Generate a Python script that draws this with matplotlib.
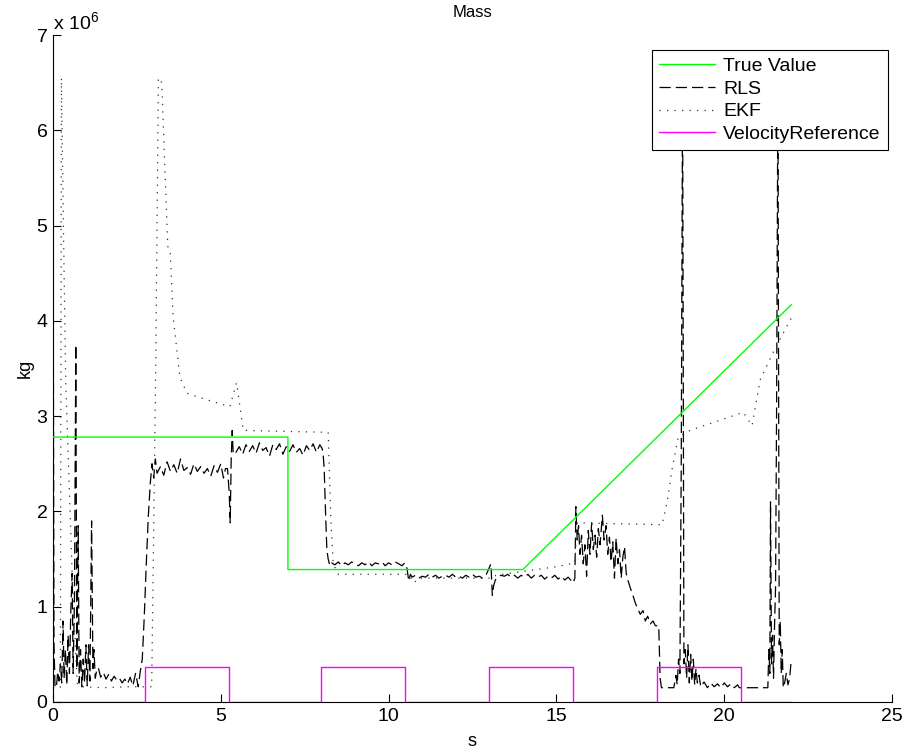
import numpy as np
import matplotlib
matplotlib.use("Agg")
import matplotlib.pyplot as plt
from matplotlib.ticker import FuncFormatter

plt.rcParams['font.family'] = ['Liberation Sans', 'DejaVu Sans']
plt.rcParams['mathtext.fontset'] = 'custom'
plt.rcParams['mathtext.rm'] = 'Liberation Sans'
plt.rcParams['mathtext.it'] = 'Liberation Sans'

# values in units of 1e6 kg, time in s
true_t = [0, 7, 7, 14, 22]
true_m = [2.78, 2.78, 1.39, 1.39, 4.17]

vel_t = [0, 2.75, 2.75, 5.25, 5.25, 8, 8, 10.5, 10.5, 13, 13, 15.5, 15.5, 18, 18, 20.5, 20.5, 22]
vel_m = [0, 0, 0.37, 0.37, 0, 0, 0.37, 0.37, 0, 0, 0.37, 0.37, 0, 0, 0.37, 0.37, 0, 0]

ekf_t = [0.0, 0.22, 0.25, 0.31, 0.38, 0.48, 0.58, 0.72, 0.80, 1.5, 2.2, 2.94,
         3.00, 3.06, 3.10, 3.14, 3.24, 3.42, 3.49, 3.58, 3.78, 3.99, 4.6, 5.27,
         5.47, 5.67, 8.20, 8.28, 8.35, 8.50, 9.5, 10.6, 10.75, 10.9, 13.1, 13.2,
         14.0, 15.0, 15.55, 15.62, 17.0, 18.15, 18.3, 18.45, 18.63, 18.98, 20.57,
         20.83, 21.07, 21.5, 22.0]
ekf_m = [0.15, 0.15, 6.55, 5.0, 3.35, 2.3, 1.25, 0.2, 0.16, 0.15, 0.16, 0.16,
         1.8, 3.5, 5.0, 6.55, 6.5, 4.78, 4.74, 4.04, 3.41, 3.24, 3.17, 3.10,
         3.35, 2.85, 2.83, 1.9, 1.45, 1.34, 1.34, 1.34, 1.25, 1.30, 1.30, 1.33,
         1.37, 1.42, 1.46, 1.88, 1.87, 1.86, 2.1, 2.45, 2.78, 2.85, 3.04,
         2.90, 3.38, 3.70, 4.03]

rls_t = [
    0.00, 0.03, 0.06, 0.10, 0.14, 0.18, 0.22, 0.26, 0.30, 0.33, 0.37, 0.41,
    0.45, 0.49, 0.53, 0.57, 0.60, 0.64, 0.68, 0.71, 0.75, 0.78, 0.82, 0.86,
    0.90, 0.94, 0.98, 1.02, 1.06, 1.10, 1.15, 1.19, 1.22, 1.26, 1.30,
    1.35, 1.42, 1.50, 1.58, 1.66, 1.74, 1.82, 1.90, 1.98, 2.06, 2.14, 2.22,
    2.30, 2.38, 2.46, 2.54, 2.60,
    2.66, 2.72, 2.78, 2.84, 2.90, 2.95, 3.00,
    3.05, 3.10, 3.20, 3.30, 3.40, 3.50, 3.60, 3.70, 3.80, 3.90, 4.00, 4.10,
    4.20, 4.30, 4.40, 4.50, 4.60, 4.70, 4.80, 4.90, 5.00, 5.08, 5.14, 5.20,
    5.25, 5.28, 5.31, 5.34, 5.37,
    5.45, 5.55, 5.65, 5.75, 5.85, 5.95, 6.05, 6.15, 6.25, 6.35, 6.45, 6.55,
    6.65, 6.75, 6.85, 6.95, 7.05, 7.15, 7.25, 7.35, 7.45, 7.55, 7.65, 7.75,
    7.85, 7.95, 8.02,
    8.05, 8.08, 8.12, 8.16, 8.20, 8.25,
    8.30, 8.40, 8.50, 8.60, 8.70, 8.80, 8.90, 9.00, 9.10, 9.20, 9.30, 9.40,
    9.50, 9.60, 9.70, 9.80, 9.90, 10.00, 10.10, 10.20, 10.30, 10.40, 10.48,
    10.55, 10.60, 10.65,
    10.70, 10.80, 10.90, 11.00, 11.10, 11.20, 11.30, 11.40, 11.50, 11.60,
    11.70, 11.80, 11.90, 12.00, 12.10, 12.20, 12.30, 12.40, 12.50, 12.60,
    12.70, 12.80, 12.90,
    13.05, 13.09, 13.13, 13.18,
    13.25, 13.35, 13.45, 13.55, 13.65, 13.75, 13.85, 13.95, 14.05, 14.15,
    14.25, 14.35, 14.45, 14.55, 14.65, 14.75, 14.85, 14.95, 15.05, 15.15,
    15.25, 15.35, 15.45, 15.50,
    15.55, 15.58, 15.62, 15.66, 15.70, 15.75, 15.80, 15.85, 15.90, 15.95,
    16.00, 16.05, 16.10, 16.15, 16.20, 16.25, 16.30, 16.37, 16.42, 16.48,
    16.53, 16.58, 16.63, 16.68, 16.73, 16.78, 16.83, 16.88, 16.93, 16.98,
    17.03, 17.08, 17.13, 17.20, 17.28, 17.35, 17.42, 17.50, 17.58, 17.65,
    17.72, 17.80, 17.88, 17.95, 18.05, 18.09, 18.13,
    18.20, 18.50, 18.56, 18.60, 18.64, 18.68, 18.72, 18.76, 18.80, 18.84,
    18.88, 18.92, 18.96, 19.00, 19.04, 19.08, 19.12, 19.16, 19.20, 19.25,
    19.30, 19.40, 19.50, 19.60, 19.70, 19.80, 19.90, 20.00, 20.10, 20.20,
    20.30, 20.40, 20.45,
    21.30, 21.33, 21.36, 21.38, 21.41, 21.44, 21.47, 21.50, 21.53, 21.56,
    21.60, 21.64, 21.67, 21.70, 21.73, 21.76, 21.80, 21.85, 21.90, 21.95,
    22.00]
rls_m = [
    5.40, 0.60, 0.16, 0.15, 0.32, 0.22, 0.40, 0.20, 0.85, 0.25, 0.55, 0.18,
    0.70, 0.30, 0.95, 1.35, 0.30, 1.10, 3.75, 0.35, 1.85, 0.20, 0.55, 0.16,
    0.45, 0.20, 0.60, 0.17, 0.60, 0.22, 1.90, 0.35, 0.55, 0.25, 0.33,
    0.36, 0.26, 0.31, 0.24, 0.29, 0.22, 0.27, 0.23, 0.25, 0.20, 0.24, 0.19,
    0.26, 0.17, 0.30, 0.16, 0.32,
    0.45, 0.90, 1.45, 1.95, 2.30, 2.50, 2.35,
    2.55, 2.40, 2.47, 2.38, 2.52, 2.42, 2.49, 2.40, 2.55, 2.43, 2.46, 2.39,
    2.50, 2.42, 2.47, 2.40, 2.45, 2.37, 2.48, 2.41, 2.50, 2.35, 2.45, 2.45,
    2.20, 1.88, 2.55, 2.85, 2.60,
    2.62, 2.68, 2.60, 2.70, 2.63, 2.69, 2.61, 2.72, 2.64, 2.67, 2.58, 2.70,
    2.65, 2.71, 2.60, 2.68, 2.63, 2.70, 2.62, 2.66, 2.59, 2.69, 2.64, 2.71,
    2.62, 2.70, 2.66,
    2.60, 2.45, 2.00, 1.60, 1.50, 1.43,
    1.46, 1.44, 1.47, 1.43, 1.46, 1.44, 1.47, 1.45, 1.43, 1.46, 1.44, 1.47,
    1.43, 1.46, 1.45, 1.47, 1.43, 1.46, 1.44, 1.47, 1.45, 1.43, 1.46,
    1.40, 1.27, 1.34,
    1.31, 1.33, 1.30, 1.32, 1.31, 1.34, 1.31, 1.33, 1.30, 1.32,
    1.33, 1.31, 1.34, 1.31, 1.32, 1.30, 1.33, 1.31, 1.34, 1.31,
    1.32, 1.30, 1.33,
    1.45, 1.12, 1.22, 1.28,
    1.31, 1.33, 1.32, 1.34, 1.31, 1.33, 1.30, 1.33, 1.31, 1.34,
    1.30, 1.33, 1.31, 1.33, 1.29, 1.32, 1.30, 1.33, 1.29, 1.32,
    1.28, 1.31, 1.27, 1.25,
    1.30, 2.05, 1.70, 1.85, 1.55, 1.75, 1.45, 1.65, 1.32, 1.80,
    1.55, 1.88, 1.60, 1.75, 1.52, 1.82, 1.65, 1.96, 1.70, 1.85,
    1.55, 1.73, 1.47, 1.68, 1.30, 1.72, 1.45, 1.60, 1.30, 1.52,
    1.63, 1.35, 1.28, 1.20, 1.12, 1.04, 0.98, 0.92, 0.96, 0.85,
    0.90, 0.82, 0.85, 0.80, 0.80, 0.25, 0.15,
    0.15, 0.15, 0.28, 0.18, 0.45, 0.30, 2.50, 6.50, 0.40, 0.55,
    0.25, 0.60, 0.20, 0.50, 0.22, 0.45, 0.18, 0.35, 0.20, 0.28,
    0.16, 0.21, 0.15, 0.20, 0.16, 0.19, 0.15, 0.20, 0.16, 0.19,
    0.15, 0.18, 0.15,
    0.15, 0.55, 0.30, 2.10, 0.40, 0.70, 0.25, 0.80, 1.20, 3.00,
    6.50, 0.60, 0.85, 0.30, 0.55, 0.15, 0.20, 0.30, 0.18, 0.25,
    0.45]

rls_m = np.array(rls_m) * 1e6
ekf_m = np.array(ekf_m) * 1e6
true_m = np.array(true_m) * 1e6
vel_m = np.array(vel_m) * 1e6

fig = plt.figure(figsize=(9.06, 7.51), dpi=100)
ax = fig.add_axes([53 / 906, 49 / 751, 839 / 906, 667 / 751])

ax.plot(true_t, true_m, color='#00ff00', lw=1.0, label='True Value', zorder=3)
ax.plot(rls_t, rls_m, color='black', lw=0.9, linestyle=(0, (9, 4)), label='RLS', zorder=2)
ax.plot(ekf_t, ekf_m, color='#333333', lw=0.9, linestyle=(0, (1, 5)), label='EKF', zorder=2)
ax.plot(vel_t, vel_m, color='#ff00ff', lw=1.0, label='VelocityReference', zorder=4)

ax.set_xlim(0, 25)
ax.set_ylim(0, 7e6)
ax.set_xticks([0, 5, 10, 15, 20, 25])
ax.set_yticks(np.arange(0, 8) * 1e6)
ax.yaxis.set_major_formatter(FuncFormatter(lambda v, p: '%d' % round(v / 1e6)))
ax.tick_params(direction='in', length=6, width=0.8, labelsize=14, pad=4)
ax.spines['top'].set_visible(False)
ax.spines['right'].set_visible(False)
for s in ['left', 'bottom']:
    ax.spines[s].set_linewidth(0.8)

ax.text(0.0, 1.003, r'x 10$^{6}$', transform=ax.transAxes, fontsize=14,
        ha='left', va='bottom')
ax.set_title('Mass', fontsize=12, pad=13)
ax.set_xlabel('s', fontsize=13, labelpad=6)
ax.set_ylabel('kg', fontsize=13, labelpad=2)

leg = ax.legend(loc='upper right', bbox_to_anchor=(0.9952, 0.9775), borderaxespad=0,
                fontsize=14, frameon=True, fancybox=False, framealpha=1,
                edgecolor='black', handlelength=2.9, handletextpad=0.4,
                labelspacing=0.26, borderpad=0.38)
leg.get_frame().set_linewidth(0.8)

fig.savefig('out.png', dpi=100)
